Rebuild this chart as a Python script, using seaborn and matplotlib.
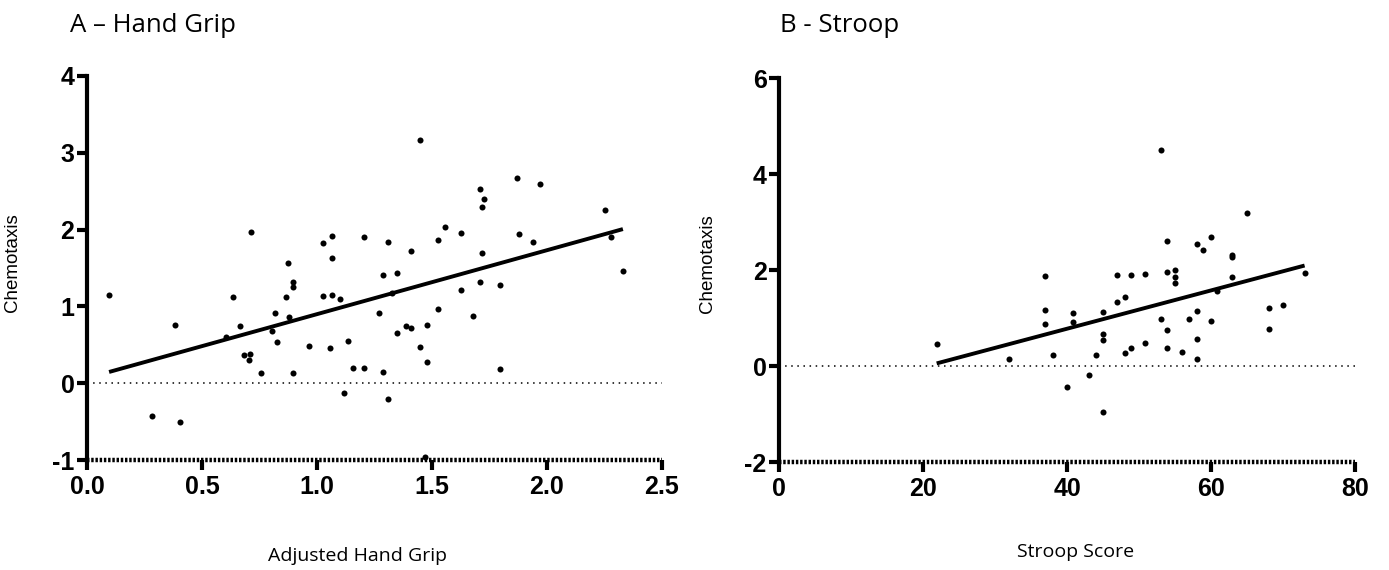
import numpy as np
import pandas as pd
import matplotlib
matplotlib.use("Agg")
import matplotlib.pyplot as plt
import seaborn as sns

# ---- Data: Panel A (Adjusted Hand Grip vs Chemotaxis) ----
grip_x = [0.096, 0.284, 0.384, 0.406, 0.606, 0.635, 0.665, 0.684, 0.707, 0.706,
          0.714, 0.757, 0.806, 0.816, 0.826, 0.867, 0.875, 0.877, 0.896, 0.896,
          0.896, 0.967, 1.026, 1.026, 1.058, 1.067, 1.067, 1.067, 1.099, 1.117,
          1.136, 1.158, 1.206, 1.206, 1.271, 1.448, 1.307, 1.407, 1.287, 1.348,
          1.328, 1.387, 1.407, 1.348, 1.477, 1.448, 1.477, 1.287, 1.307, 1.468,
          1.527, 1.558, 1.527, 1.628, 1.628, 1.678, 1.709, 1.728, 1.719, 1.719,
          1.709, 1.797, 1.797, 1.868, 1.970, 1.878, 1.938, 2.251, 2.280, 2.330]
grip_y = [1.15, -0.43, 0.755, -0.51, 0.60, 1.12, 0.75, 0.37, 0.38, 0.30,
          1.975, 0.13, 0.68, 0.92, 0.53, 1.12, 1.57, 0.86, 1.32, 1.25,
          0.13, 0.49, 1.82, 1.14, 0.46, 1.92, 1.63, 1.15, 1.10, -0.13,
          0.55, 0.20, 1.90, 0.20, 0.92, 3.17, 1.845, 1.72, 1.41, 1.43,
          1.17, 0.74, 0.725, 0.655, 0.76, 0.465, 0.27, 0.15, -0.20, -0.96,
          1.87, 2.03, 0.97, 1.96, 1.21, 0.88, 2.53, 2.40, 2.30, 1.69,
          1.32, 1.28, 0.19, 2.67, 2.60, 1.94, 1.845, 2.25, 1.90, 1.455]

# ---- Data: Panel B (Stroop Score vs Chemotaxis) ----
stroop_x = [21.9, 31.9, 36.9, 36.9, 36.9, 38.0, 40.0, 40.9, 40.9, 43.0,
            44.0, 45.0, 45.0, 45.0, 45.0, 46.9, 46.9, 48.0, 48.0, 48.9,
            48.9, 50.9, 50.9, 53.0, 53.0, 53.9, 53.9, 53.9, 53.9, 55.0,
            55.0, 55.0, 56.0, 56.9, 58.0, 58.0, 58.0, 58.0, 58.9, 60.0,
            60.0, 60.9, 62.9, 62.9, 62.9, 65.0, 68.0, 68.0, 70.0, 73.0]
stroop_y = [0.46, 0.14, 1.88, 1.17, 0.88, 0.22, -0.43, 1.10, 0.92, -0.19,
            0.22, 1.13, 0.66, 0.54, -0.95, 1.90, 1.33, 1.43, 0.28, 1.90,
            0.38, 1.92, 0.47, 4.49, 0.97, 2.60, 1.96, 0.74, 0.37, 1.99,
            1.86, 1.73, 0.30, 0.97, 2.55, 1.15, 0.56, 0.14, 2.41, 2.68,
            0.93, 1.57, 2.31, 2.27, 1.86, 3.18, 1.21, 0.77, 1.28, 1.94]

grip_xticks = [0.0, 0.5, 1.0, 1.5, 2.0, 2.5]
grip_yticks = [-1, 0, 1, 2, 3, 4]
stroop_xticks = [0, 20, 40, 60, 80]
stroop_yticks = [-2, 0, 2, 4, 6]

df_a = pd.DataFrame({"Adjusted Hand Grip": grip_x, "Chemotaxis": grip_y})
df_b = pd.DataFrame({"Stroop Score": stroop_x, "Chemotaxis": stroop_y})

sns.set_theme(style="white")
plt.rcParams["font.family"] = ["Liberation Sans", "DejaVu Sans"]
for k in ["text.color", "axes.labelcolor", "xtick.color", "ytick.color", "axes.edgecolor"]:
    plt.rcParams[k] = "black"

fig = plt.figure(figsize=(13.89, 5.70), dpi=100)
W, H = 1389, 570

def px_axes(left, right, top, bottom):
    return fig.add_axes([left / W, 1 - bottom / H, (right - left) / W, (bottom - top) / H])

ax_a = px_axes(87, 662, 76, 460)
ax_b = px_axes(779, 1355, 78, 462)

xlabel_font = dict(family=["Open Sans", "DejaVu Sans"], fontsize=14, color="black")
ylabel_font = dict(family=["Liberation Sans", "DejaVu Sans"], fontsize=13.5, color="black")

def style(ax, df, xcol, xticks, yticks, xfmt, xl, yl):
    sns.regplot(data=df, x=xcol, y="Chemotaxis", ax=ax, ci=None, truncate=True,
                color="black",
                scatter_kws=dict(s=19, linewidths=0, color="black", alpha=1, zorder=3),
                line_kws=dict(lw=2.8, color="black", solid_capstyle="butt", zorder=4))
    ax.set_xlim(xticks[0], xticks[-1])
    ax.set_ylim(yticks[0], yticks[-1])
    ax.axhline(0, color="black", lw=1.1, ls=(0, (1, 3)), zorder=1)
    # dashed bottom axis line (as in the reference)
    ax.axhline(yticks[0], color="black", lw=3.2, ls=(0, (0.55, 0.4)),
               clip_on=False, zorder=5)
    ax.set_xticks(xticks)
    ax.set_yticks(yticks)
    ax.set_xticklabels([xfmt(v) for v in xticks])
    ax.set_yticklabels([str(v) for v in yticks])
    for lab in ax.get_xticklabels() + ax.get_yticklabels():
        lab.set_fontfamily(["Liberation Sans", "DejaVu Sans"])
        lab.set_fontweight("bold")
        lab.set_fontsize(18)
        lab.set_color("black")
    ax.tick_params(axis="both", direction="out", length=7, width=3, color="black",
                   pad=2, bottom=True, left=True)
    ax.tick_params(axis="x", pad=4)
    for s in ["top", "right", "bottom"]:
        ax.spines[s].set_visible(False)
    ax.spines["left"].set_linewidth(3)
    ax.spines["left"].set_color("black")
    ax.set_xlabel(xcol, **xlabel_font)
    ax.set_ylabel("Chemotaxis", **ylabel_font)
    ax.xaxis.set_label_coords(*xl)
    ax.yaxis.set_label_coords(*yl)
    ax.set_facecolor("white")
    ax.grid(False)

style(ax_a, df_a, "Adjusted Hand Grip", grip_xticks, grip_yticks,
      lambda v: f"{v:.1f}", (0.47, -0.227), (-0.115, 0.513))
style(ax_b, df_b, "Stroop Score", stroop_xticks, stroop_yticks,
      lambda v: f"{v:d}", (0.514, -0.211), (-0.109, 0.516))

title_font = dict(family=["Open Sans", "DejaVu Sans"], fontsize=18.5,
                  va="center", ha="left", color="black")
fig.text(70 / W, 1 - 25 / H, "A – Hand Grip", **title_font)
fig.text(780 / W, 1 - 25 / H, "B - Stroop", **title_font)

fig.savefig("out.png", dpi=100, facecolor="white")
